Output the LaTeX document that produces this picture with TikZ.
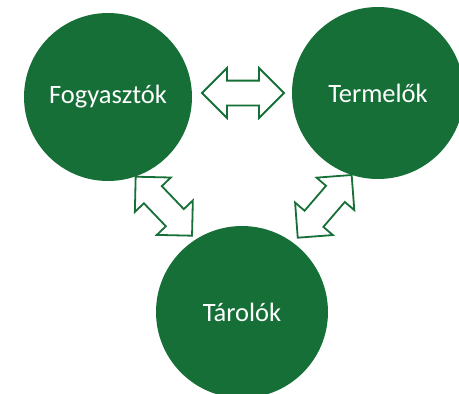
\documentclass[tikz,border=0pt]{standalone}
\usepackage{fontspec}
\setmainfont{Carlito}
\usetikzlibrary{shapes.arrows,calc}
\definecolor{dgreen}{RGB}{21,111,55}
\tikzset{
  bubble/.style={circle, fill=dgreen, draw=none, text=white, inner sep=0pt,
    minimum size=#1, font=\fontsize{26.5}{30}\selectfont},
  blockarrow/.style={double arrow, draw=dgreen, fill=white, line width=1.8pt,
    double arrow tip angle=90, double arrow head extend=12.5pt,
    inner xsep=0pt, inner ysep=11.5pt, minimum width=48pt, minimum height=#1},
}
\begin{document}
\begin{tikzpicture}[x=1pt,y=-1pt]
\useasboundingbox (0,0) rectangle (459,394);
\node[bubble=168pt] (fog) at (108,97) {Fogyasztók};
\node[bubble=172pt] (term) at (378,93) {Termelők};
\node[bubble=172pt] (tar) at (242,312) {Tárolók};
\coordinate (a1) at (202,93);
\coordinate (a2) at (284,93);
\coordinate (b1) at (135.7,176.7);
\coordinate (b2) at (192,235.7);
\coordinate (c1) at (297.7,237.7);
\coordinate (c2) at (351.7,175);
\node[blockarrow=82pt] (fogterm) at ($(a1)!0.5!(a2)$) {};
\node[blockarrow=81.6pt, rotate=-46.3] (fogtar) at ($(b1)!0.5!(b2)$) {};
\node[blockarrow=82.7pt, rotate=49.3] (termtar) at ($(c1)!0.5!(c2)$) {};
\end{tikzpicture}
\end{document}
